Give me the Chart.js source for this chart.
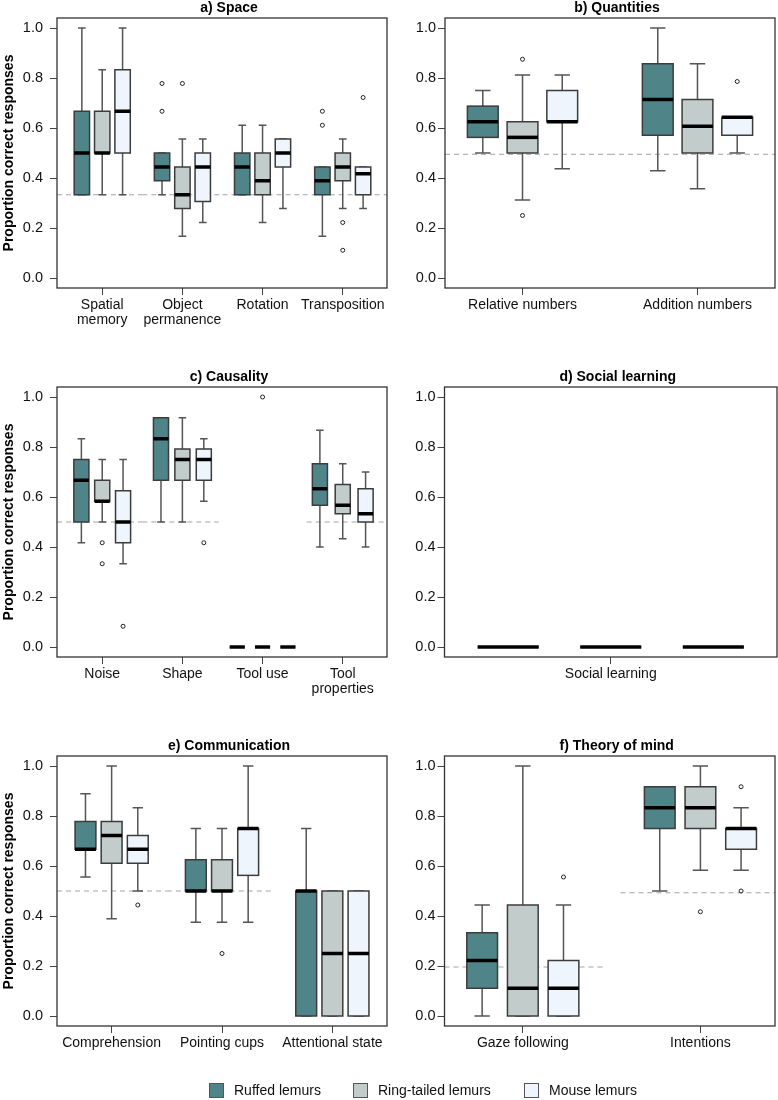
<!DOCTYPE html>
<html>
<head>
<meta charset="utf-8">
<title>Lemur cognition box plots</title>
<script src="https://cdn.jsdelivr.net/npm/chart.js@4"></script>
<style>
  body { margin: 0; background: #fff; font-family: "Liberation Sans", Arial, sans-serif; }
  #page { position: relative; width: 778px; height: 1100px; }
  canvas { position: absolute; }
  .legend { position: absolute; top: 1082px; left: 0; width: 778px; height: 17px; font-size: 14px; color: #111; }
  .legend span { position: absolute; top: 0; line-height: 17px; white-space: nowrap; }
  .legend i { position: absolute; top: 1px; width: 15px; height: 15px; border: 1px solid #555; box-sizing: border-box; }
</style>
</head>
<body>
<div id="page">
  <canvas id="space" width="390" height="345" style="left:0;top:0"></canvas>
  <canvas id="quantities" width="388" height="345" style="left:390px;top:0"></canvas>
  <canvas id="causality" width="390" height="345" style="left:0;top:369px"></canvas>
  <canvas id="social" width="388" height="345" style="left:390px;top:369px"></canvas>
  <canvas id="communication" width="390" height="345" style="left:0;top:738px"></canvas>
  <canvas id="tom" width="388" height="345" style="left:390px;top:738px"></canvas>
  <div class="legend" id="legend"></div>
</div>
<script>
// every box is [min, q1, median, q3, max]
const species = ['Ruffed lemurs', 'Ring-tailed lemurs', 'Mouse lemurs'];
const yTicks = [0, 0.2, 0.4, 0.6, 0.8, 1.0];

// a) Space
const spaceTasks = [['Spatial', 'memory'], ['Object', 'permanence'], 'Rotation', 'Transposition'];
const spaceRuffed = [[0.333, 0.333, 0.5, 0.667, 1.0], [0.333, 0.389, 0.444, 0.5, 0.5], [0.333, 0.333, 0.444, 0.5, 0.611], [0.167, 0.333, 0.389, 0.444, 0.444]];
const spaceRingtailed = [[0.333, 0.5, 0.5, 0.667, 0.833], [0.167, 0.278, 0.333, 0.444, 0.556], [0.222, 0.333, 0.389, 0.5, 0.611], [0.278, 0.389, 0.444, 0.5, 0.556]];
const spaceMouse = [[0.333, 0.5, 0.667, 0.833, 1.0], [0.222, 0.306, 0.444, 0.5, 0.556], [0.278, 0.444, 0.5, 0.556, 0.556], [0.278, 0.333, 0.417, 0.444, 0.444]];
const spaceRuffedOut = [[], [0.667, 0.778], [], [0.611, 0.667]];
const spaceRingtailedOut = [[], [0.778], [], [0.111, 0.222]];
const spaceMouseOut = [[], [], [], [0.722]];
const spaceChance = [0.333, 0.333, 0.333, 0.333];

// b) Quantities
const quantTasks = ['Relative numbers', 'Addition numbers'];
const quantRuffed = [[0.5, 0.5625, 0.625, 0.6875, 0.75], [0.429, 0.571, 0.714, 0.857, 1.0]];
const quantRingtailed = [[0.3125, 0.5, 0.5625, 0.625, 0.8125], [0.357, 0.5, 0.607, 0.714, 0.857]];
const quantMouse = [[0.4375, 0.625, 0.625, 0.75, 0.8125], [0.5, 0.571, 0.643, 0.643, 0.643]];
const quantRuffedOut = [[], []];
const quantRingtailedOut = [[0.25, 0.875], []];
const quantMouseOut = [[], [0.786]];
const quantChance = [0.495, 0.495];

// c) Causality
const causTasks = ['Noise', 'Shape', 'Tool use', ['Tool', 'properties']];
const causRuffed = [[0.417, 0.5, 0.667, 0.75, 0.833], [0.5, 0.667, 0.833, 0.917, 0.917], [0, 0, 0, 0, 0], [0.4, 0.567, 0.633, 0.733, 0.867]];
const causRingtailed = [[0.5, 0.583, 0.583, 0.667, 0.75], [0.5, 0.667, 0.75, 0.792, 0.917], [0, 0, 0, 0, 0], [0.433, 0.533, 0.567, 0.65, 0.733]];
const causMouse = [[0.333, 0.417, 0.5, 0.625, 0.75], [0.583, 0.667, 0.75, 0.792, 0.833], [0, 0, 0, 0, 0], [0.4, 0.5, 0.533, 0.633, 0.7]];
const causRuffedOut = [[], [], [], []];
const causRingtailedOut = [[0.333, 0.417], [], [1.0], []];
const causMouseOut = [[0.083], [0.417], [], []];
const causChance = [0.5, 0.5, null, 0.5];

// d) Social learning
const socialTasks = ['Social learning'];
const socialRuffed = [[0, 0, 0, 0, 0]];
const socialRingtailed = [[0, 0, 0, 0, 0]];
const socialMouse = [[0, 0, 0, 0, 0]];
const socialChance = [null];

// e) Communication
const commTasks = ['Comprehension', 'Pointing cups', 'Attentional state'];
const commRuffed = [[0.556, 0.667, 0.667, 0.778, 0.889], [0.375, 0.5, 0.5, 0.625, 0.75], [0, 0, 0.5, 0.5, 0.75]];
const commRingtailed = [[0.389, 0.611, 0.722, 0.778, 1.0], [0.375, 0.5, 0.5, 0.625, 0.75], [0, 0, 0.25, 0.5, 0.5]];
const commMouse = [[0.5, 0.611, 0.667, 0.722, 0.833], [0.375, 0.5625, 0.75, 0.75, 1.0], [0, 0, 0.25, 0.5, 0.5]];
const commRuffedOut = [[], [], []];
const commRingtailedOut = [[], [0.25], []];
const commMouseOut = [[0.444], [], []];
const commChance = [0.5, 0.5, null];

// f) Theory of mind
const tomTasks = ['Gaze following', 'Intentions'];
const tomRuffed = [[0, 0.111, 0.222, 0.333, 0.444], [0.5, 0.75, 0.833, 0.917, 0.917]];
const tomRingtailed = [[0, 0, 0.111, 0.444, 1.0], [0.583, 0.75, 0.833, 0.917, 1.0]];
const tomMouse = [[0, 0, 0.111, 0.222, 0.444], [0.583, 0.667, 0.75, 0.75, 0.833]];
const tomRuffedOut = [[], []];
const tomRingtailedOut = [[], [0.417]];
const tomMouseOut = [[0.556], [0.5, 0.917]];
const tomChance = [0.196, 0.493];

const fills = ['#4f8589', '#c2ccca', '#eef5fd'];
const FONT = '"Liberation Sans", Arial, sans-serif';
Chart.defaults.font.family = FONT;

function makePanel(id, p) {
    const groups = p.tasks.map((t, i) => i + 1);
    const spreadOf = g => Array.isArray(p.spread) ? p.spread[g] : p.spread;
    const outliers = p.outliers || [[], [], []];

    const datasets = outliers.map((list, s) => ({
        label: species[s],
        data: list.flatMap((vals, g) => vals.map(v => ({ x: groups[g] + (s - 1) * spreadOf(g), y: v }))),
        pointRadius: 2,
        pointHoverRadius: 2,
        pointBorderWidth: 1,
        pointBorderColor: '#222',
        pointBackgroundColor: 'rgba(255,255,255,0)'
    }));

    const boxes = {
        id: 'boxes_' + id,
        beforeDatasetsDraw(chart) {
            const { ctx, scales: { x, y } } = chart;
            ctx.save();

            // chance level (dashed)
            ctx.setLineDash([5, 4]);
            ctx.strokeStyle = '#a3a3a3';
            ctx.lineWidth = 1;
            p.chance.forEach((c, g) => {
                if (c === null) return;
                const last = groups.length - 1;
                const from = g === 0 ? x.min : groups[g] - (p.chance[g - 1] === c ? 0.5 : 0.45);
                const to = g === last ? x.max : groups[g] + (p.chance[g + 1] === c ? 0.5 : 0.45);
                const py = y.getPixelForValue(c);
                ctx.beginPath();
                ctx.moveTo(x.getPixelForValue(from), py);
                ctx.lineTo(x.getPixelForValue(to), py);
                ctx.stroke();
            });
            ctx.setLineDash([]);

            const half = (x.getPixelForValue(p.width) - x.getPixelForValue(0)) / 2;
            p.stats.forEach((list, s) => list.forEach((st, g) => {
                const [lo, q1, med, q3, hi] = st.map(v => y.getPixelForValue(v));
                const cx = x.getPixelForValue(groups[g] + (s - 1) * spreadOf(g));

                ctx.strokeStyle = '#555';
                ctx.lineWidth = 1.5;
                ctx.beginPath();
                ctx.moveTo(cx, q3); ctx.lineTo(cx, hi);
                ctx.moveTo(cx, q1); ctx.lineTo(cx, lo);
                ctx.moveTo(cx - half / 2, hi); ctx.lineTo(cx + half / 2, hi);
                ctx.moveTo(cx - half / 2, lo); ctx.lineTo(cx + half / 2, lo);
                ctx.stroke();

                ctx.fillStyle = fills[s];
                ctx.fillRect(cx - half, q3, half * 2, q1 - q3);
                ctx.strokeStyle = '#3c3c3c';
                ctx.strokeRect(cx - half, q3, half * 2, q1 - q3);

                ctx.strokeStyle = '#000';
                ctx.lineWidth = 3.5;
                ctx.beginPath();
                ctx.moveTo(cx - half, med);
                ctx.lineTo(cx + half, med);
                ctx.stroke();
            }));
            ctx.restore();
        },
        afterDraw(chart) {
            const { ctx, chartArea: a } = chart;
            ctx.save();
            ctx.strokeStyle = '#333';
            ctx.lineWidth = 1.3;
            ctx.strokeRect(a.left, a.top, a.right - a.left, a.bottom - a.top);
            ctx.fillStyle = '#000';
            ctx.font = 'bold 14px ' + FONT;
            ctx.textAlign = 'center';
            ctx.textBaseline = 'middle';
            ctx.fillText(p.title, (a.left + a.right) / 2 + 7, 8);
            ctx.restore();
        }
    };

    new Chart(document.getElementById(id), {
        type: 'scatter',
        data: { datasets: datasets },
        options: {
            responsive: false,
            animation: false,
            devicePixelRatio: 1,
            layout: { padding: { top: 18, right: 1, left: 0, bottom: 0 } },
            plugins: {
                legend: { display: false },
                tooltip: { enabled: false }
            },
            scales: {
                x: {
                    type: 'linear',
                    min: p.xMin,
                    max: p.xMax,
                    afterBuildTicks: s => { s.ticks = groups.map(v => ({ value: v })); },
                    afterFit: s => { s.height = 57; },
                    grid: { drawOnChartArea: false, tickLength: 7, tickColor: '#444' },
                    border: { display: false },
                    ticks: {
                        autoSkip: false,
                        maxRotation: 0,
                        padding: 2,
                        color: '#111',
                        font: { size: 14, lineHeight: 1.1 },
                        callback: (v, i) => p.tasks[i]
                    }
                },
                y: {
                    min: -0.04,
                    max: 1.04,
                    afterBuildTicks: s => { s.ticks = yTicks.map(v => ({ value: v })); },
                    afterFit: s => { s.width = p.yWidth; },
                    grid: { drawOnChartArea: false, tickLength: 7, tickColor: '#444' },
                    border: { display: false },
                    ticks: {
                        padding: p.labelGap,
                        color: '#111',
                        font: { size: 14.5 },
                        callback: v => v.toFixed(1)
                    },
                    title: {
                        display: !!p.yTitle,
                        text: 'Proportion correct responses',
                        color: '#000',
                        font: { size: 14, weight: 'bold' },
                        padding: { top: 1, bottom: 0 }
                    }
                }
            }
        },
        plugins: [boxes]
    });
}

makePanel('space', {
    title: 'a) Space', tasks: spaceTasks,
    stats: [spaceRuffed, spaceRingtailed, spaceMouse],
    outliers: [spaceRuffedOut, spaceRingtailedOut, spaceMouseOut],
    chance: spaceChance,
    xMin: 0.436, xMax: 4.552, spread: 0.254, width: 0.192,
    yWidth: 57, labelGap: 7, yTitle: true
});

makePanel('quantities', {
    title: 'b) Quantities', tasks: quantTasks,
    stats: [quantRuffed, quantRingtailed, quantMouse],
    outliers: [quantRuffedOut, quantRingtailedOut, quantMouseOut],
    chance: quantChance,
    xMin: 0.557, xMax: 2.443, spread: 0.227, width: 0.176,
    yWidth: 55, labelGap: 2
});

makePanel('causality', {
    title: 'c) Causality', tasks: causTasks,
    stats: [causRuffed, causRingtailed, causMouse],
    outliers: [causRuffedOut, causRingtailedOut, causMouseOut],
    chance: causChance,
    xMin: 0.436, xMax: 4.552, spread: [0.26, 0.267, 0.316, 0.285], width: 0.188,
    yWidth: 57, labelGap: 7, yTitle: true
});

makePanel('social', {
    title: 'd) Social learning', tasks: socialTasks,
    stats: [socialRuffed, socialRingtailed, socialMouse],
    chance: socialChance,
    xMin: 0, xMax: 2, spread: 0.617, width: 0.367,
    yWidth: 54.5, labelGap: 2
});

makePanel('communication', {
    title: 'e) Communication', tasks: commTasks,
    stats: [commRuffed, commRingtailed, commMouse],
    outliers: [commRuffedOut, commRingtailedOut, commMouseOut],
    chance: commChance,
    xMin: 0.505, xMax: 3.495, spread: 0.237, width: 0.189,
    yWidth: 57, labelGap: 7, yTitle: true
});

makePanel('tom', {
    title: 'f) Theory of mind', tasks: tomTasks,
    stats: [tomRuffed, tomRingtailed, tomMouse],
    outliers: [tomRuffedOut, tomRingtailedOut, tomMouseOut],
    chance: tomChance,
    xMin: 0.559, xMax: 2.42, spread: 0.229, width: 0.173,
    yWidth: 54.5, labelGap: 2
});

// legend along the bottom
const legendPos = [209, 353, 524];
const legend = document.getElementById('legend');
species.forEach((name, i) => {
    const box = document.createElement('i');
    box.style.left = legendPos[i] + 'px';
    box.style.background = fills[i];
    const label = document.createElement('span');
    label.style.left = (legendPos[i] + 25) + 'px';
    label.textContent = name;
    legend.appendChild(box);
    legend.appendChild(label);
});
</script>
</body>
</html>
